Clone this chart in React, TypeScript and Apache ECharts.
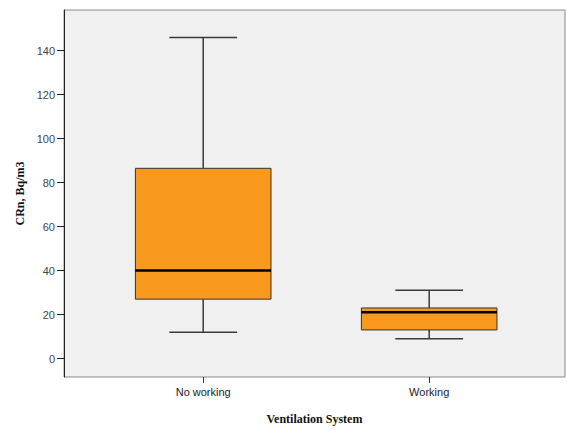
import React, { useEffect, useRef } from "react";
import * as echarts from "echarts";

const categories = ["No working", "Working"];
const whiskerLow = [12, 9];
const quartile1 = [27, 13];
const medians = [40, 21];
const quartile3 = [86.5, 23];
const whiskerHigh = [146, 31];
const yTicks = [0, 20, 40, 60, 80, 100, 120, 140];

export default function App() {
  const ref = useRef<HTMLDivElement>(null);
  useEffect(() => {
    if (!ref.current) return;
    const chart = echarts.init(ref.current, null, { renderer: "svg" });
    const data = categories.map((_, i) => [
      i + 1,
      whiskerLow[i],
      quartile1[i],
      medians[i],
      quartile3[i],
      whiskerHigh[i],
    ]);
    const xPositions = categories.map((_, i) => i + 1);
    const renderItem = (params: any, api: any) => {
      const x = api.value(0);
      const lo = api.coord([x, api.value(1)]);
      const q1 = api.coord([x, api.value(2)]);
      const med = api.coord([x, api.value(3)]);
      const q3 = api.coord([x, api.value(4)]);
      const hi = api.coord([x, api.value(5)]);
      const bw = api.size([0.6, 0])[0];
      const cx = lo[0];
      const half = bw / 2;
      const capHalf = bw / 4;
      const whiskerStyle = { stroke: "#3a3a3a", lineWidth: 1.5 };
      return {
        type: "group",
        children: [
          { type: "line", shape: { x1: cx, y1: hi[1], x2: cx, y2: q3[1] }, style: whiskerStyle },
          { type: "line", shape: { x1: cx, y1: q1[1], x2: cx, y2: lo[1] }, style: whiskerStyle },
          { type: "line", shape: { x1: cx - capHalf, y1: hi[1], x2: cx + capHalf, y2: hi[1] }, style: whiskerStyle },
          { type: "line", shape: { x1: cx - capHalf, y1: lo[1], x2: cx + capHalf, y2: lo[1] }, style: whiskerStyle },
          {
            type: "rect",
            shape: { x: cx - half, y: q3[1], width: bw, height: q1[1] - q3[1] },
            style: { fill: "#F99A1F", stroke: "#333333", lineWidth: 1 },
          },
          { type: "line", shape: { x1: cx - half, y1: med[1], x2: cx + half, y2: med[1] }, style: { stroke: "#000000", lineWidth: 2.5 } },
        ],
      };
    };
    chart.setOption({
      animation: false,
      backgroundColor: "#ffffff",
      grid: {
        left: 64,
        top: 10,
        right: 2,
        bottom: 44,
        show: true,
        backgroundColor: "#F0F0F0",
        borderColor: "#8a8a8a",
        borderWidth: 1,
      },
      xAxis: {
        type: "value",
        position: "bottom",
        min: 0.384,
        max: 2.601,
        splitLine: { show: false },
        axisLine: { show: false, onZero: false },
        axisTick: {
          show: true,
          length: 6,
          customValues: xPositions,
          lineStyle: { color: "#333333" },
        },
        axisLabel: {
          customValues: xPositions,
          formatter: (v: number) => categories[Math.round(v) - 1] ?? "",
          color: "#222222",
          fontFamily: "Liberation Sans",
          fontSize: 11,
          margin: 9,
        },
        name: "Ventilation System",
        nameLocation: "middle",
        nameGap: 36,
        nameTextStyle: {
          fontFamily: "Liberation Serif",
          fontWeight: "bold",
          fontSize: 12,
          color: "#111111",
        },
      },
      yAxis: {
        type: "value",
        position: "left",
        min: -8.4,
        max: 158.5,
        splitLine: { show: false },
        axisLine: { show: true, onZero: false, lineStyle: { color: "#222222", width: 1 } },
        axisTick: {
          show: true,
          length: 7,
          customValues: yTicks,
          lineStyle: { color: "#222222" },
        },
        axisLabel: {
          customValues: yTicks,
          color: "#444444",
          fontFamily: "Liberation Sans",
          fontSize: 11,
          margin: 9,
        },
        name: "CRn, Bq/m3",
        nameLocation: "middle",
        nameRotate: 90,
        nameGap: 37,
        nameTextStyle: {
          fontFamily: "Liberation Serif",
          fontWeight: "bold",
          fontSize: 12,
          color: "#111111",
        },
      },
      series: [
        {
          type: "custom",
          renderItem,
          data,
          encode: { x: 0, y: [1, 2, 3, 4, 5] },
        },
      ],
    });
    return () => chart.dispose();
  }, []);
  return <div ref={ref} style={{ width: 567, height: 430, position: "absolute", left: 0, top: 0 }} />;
}
